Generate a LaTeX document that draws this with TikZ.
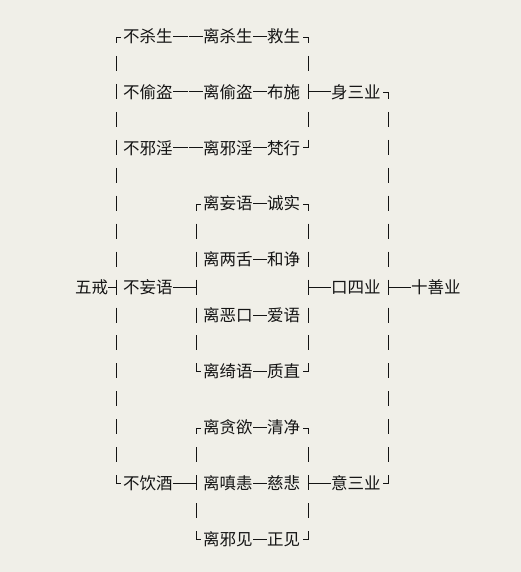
\documentclass[tikz,border=0pt]{standalone}
\usepackage{fontspec}
\setmainfont{Noto Sans CJK SC}
\definecolor{bgc}{RGB}{240,239,232}
\definecolor{ink}{RGB}{20,20,20}
\newcommand\Ry[1]{(36+27.95*#1)}
\begin{document}
\begin{tikzpicture}[x=1pt,y=-1pt,
  lbl/.style={anchor=west,inner sep=0pt,outer sep=0pt,font=\fontsize{16.5}{17}\selectfont,text=ink,text height=14.5pt,text depth=2pt},
  ln/.style={draw=ink,line width=0.9pt},
  dashln/.style={ln,shorten <=0.5pt,shorten >=0.5pt}]
\useasboundingbox[fill=bgc] (0,0) rectangle (521,572);
% vertical bar pieces
\newcommand\vb[2]{\draw[ln] (#1,{\Ry{#2}-8}) -- (#1,{\Ry{#2}+7});}
\newcommand\cTL[2]{\draw[ln] (#1+5,{\Ry{#2}+1}) -- (#1,{\Ry{#2}+1}) -- (#1,{\Ry{#2}+7});}
\newcommand\cTR[2]{\draw[ln] (#1-5,{\Ry{#2}+1}) -- (#1,{\Ry{#2}+1}) -- (#1,{\Ry{#2}+7});}
\newcommand\cBL[2]{\draw[ln] (#1,{\Ry{#2}-8}) -- (#1,{\Ry{#2}}) -- (#1+5,{\Ry{#2}});}
\newcommand\cBR[2]{\draw[ln] (#1,{\Ry{#2}-8}) -- (#1,{\Ry{#2}}) -- (#1-5,{\Ry{#2}});}
% column 116
\cTL{116}{0}
\foreach \r in {1,...,8,10,11,12,13,14,15} {\vb{116}{\r}}
\vb{116}{9}
\cBL{116}{16}
% column 196
\cTL{196}{6}
\foreach \r in {7,8,9,10,11,15,16,17} {\vb{196}{\r}}
\cBL{196}{12}
\cTL{196}{14}
\cBL{196}{18}
% column 308
\cTR{308}{0}
\foreach \r in {1,2,3,7,8,9,10,11,15,16,17} {\vb{308}{\r}}
\cBR{308}{4}
\cTR{308}{6}
\cBR{308}{12}
\cTR{308}{14}
\cBR{308}{18}
% column 388
\cTR{388}{2}
\foreach \r in {3,...,15} {\vb{388}{\r}}
\cBR{388}{16}
% junction coordinates
\coordinate (j9a) at (116,{\Ry{9}});
\coordinate (j9b) at (196,{\Ry{9}});
\coordinate (j9c) at (308,{\Ry{9}});
\coordinate (j9d) at (388,{\Ry{9}});
\coordinate (j2c) at (308,{\Ry{2}});
\coordinate (j16b) at (196,{\Ry{16}});
\coordinate (j16c) at (308,{\Ry{16}});
\coordinate (m0) at (188,{\Ry{0}});
\coordinate (m2) at (188,{\Ry{2}});
\coordinate (m4) at (188,{\Ry{4}});
% row 0
\node[lbl] (a0) at (123,{\Ry{0}}) {不杀生};
\node[lbl] (b0) at (203,{\Ry{0}}) {离杀生};
\node[lbl] (c0) at (267,{\Ry{0}}) {救生};
\draw[dashln] (a0.east) -- (m0);
\draw[dashln] (m0) -- (b0.west);
\draw[dashln] (b0.east) -- (c0.west);
% row 2
\node[lbl] (a2) at (123,{\Ry{2}}) {不偷盗};
\node[lbl] (b2) at (203,{\Ry{2}}) {离偷盗};
\node[lbl] (c2) at (267,{\Ry{2}}) {布施};
\node[lbl] (d2) at (331,{\Ry{2}}) {身三业};
\draw[dashln] (a2.east) -- (m2);
\draw[dashln] (m2) -- (b2.west);
\draw[dashln] (b2.east) -- (c2.west);
\draw[ln] (j2c) -- (d2.west);
% row 4
\node[lbl] (a4) at (123,{\Ry{4}}) {不邪淫};
\node[lbl] (b4) at (203,{\Ry{4}}) {离邪淫};
\node[lbl] (c4) at (267,{\Ry{4}}) {梵行};
\draw[dashln] (a4.east) -- (m4);
\draw[dashln] (m4) -- (b4.west);
\draw[dashln] (b4.east) -- (c4.west);
% row 6
\node[lbl] (b6) at (203,{\Ry{6}}) {离妄语};
\node[lbl] (c6) at (267,{\Ry{6}}) {诚实};
\draw[dashln] (b6.east) -- (c6.west);
% row 8
\node[lbl] (b8) at (203,{\Ry{8}}) {离两舌};
\node[lbl] (c8) at (267,{\Ry{8}}) {和诤};
\draw[dashln] (b8.east) -- (c8.west);
% row 9
\node[lbl] (w9) at (75,{\Ry{9}}) {五戒};
\node[lbl] (a9) at (123,{\Ry{9}}) {不妄语};
\node[lbl] (d9) at (331,{\Ry{9}}) {口四业};
\node[lbl] (e9) at (411,{\Ry{9}}) {十善业};
\draw[ln] (w9.east) -- (j9a);
\draw[ln] (a9.east) -- (j9b);
\draw[ln] (j9c) -- (d9.west);
\draw[ln] (j9d) -- (e9.west);
% row 10
\node[lbl] (b10) at (203,{\Ry{10}}) {离恶口};
\node[lbl] (c10) at (267,{\Ry{10}}) {爱语};
\draw[dashln] (b10.east) -- (c10.west);
% row 12
\node[lbl] (b12) at (203,{\Ry{12}}) {离绮语};
\node[lbl] (c12) at (267,{\Ry{12}}) {质直};
\draw[dashln] (b12.east) -- (c12.west);
% row 14
\node[lbl] (b14) at (203,{\Ry{14}}) {离贪欲};
\node[lbl] (c14) at (267,{\Ry{14}}) {清净};
\draw[dashln] (b14.east) -- (c14.west);
% row 16
\node[lbl] (a16) at (123,{\Ry{16}}) {不饮酒};
\node[lbl] (b16) at (203,{\Ry{16}}) {离嗔恚};
\node[lbl] (c16) at (267,{\Ry{16}}) {慈悲};
\node[lbl] (d16) at (331,{\Ry{16}}) {意三业};
\draw[ln] (a16.east) -- (j16b);
\draw[dashln] (b16.east) -- (c16.west);
\draw[ln] (j16c) -- (d16.west);
% row 18
\node[lbl] (b18) at (203,{\Ry{18}}) {离邪见};
\node[lbl] (c18) at (267,{\Ry{18}}) {正见};
\draw[dashln] (b18.east) -- (c18.west);
\end{tikzpicture}
\end{document}
